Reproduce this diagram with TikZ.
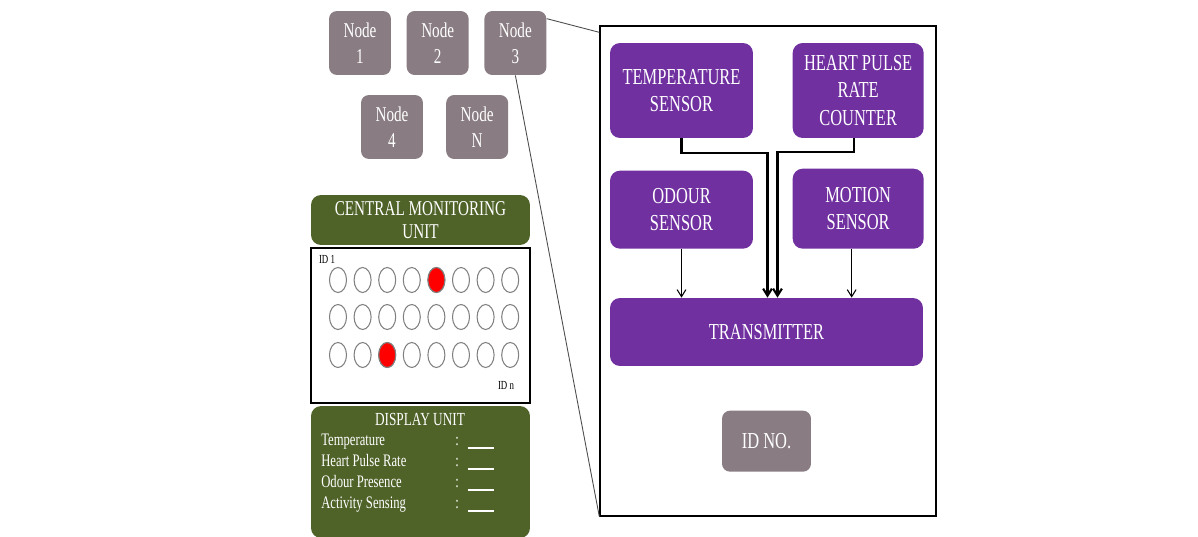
\documentclass[tikz,border=0pt]{standalone}
\usepackage{fontspec}
\setmainfont[FakeStretch=0.72]{Liberation Serif}
\usepackage{xcolor}
\usetikzlibrary{positioning,arrows.meta,shapes.geometric}

\definecolor{nodegray}{RGB}{137,124,130}
\definecolor{sensorpurple}{RGB}{112,48,160}
\definecolor{olivepanel}{RGB}{79,98,40}

\begin{document}
\begin{tikzpicture}[x=0.02cm, y=-0.02cm, >={Straight Barb[length=4pt,width=5pt]}]
\tikzstyle{netnode}=[
    fill=nodegray, rounded corners=0.16cm,
    text=white, align=center,
    minimum width=1.24cm, minimum height=1.28cm,
    font=\fontsize{12}{15}\selectfont
]
\tikzstyle{sensor}=[
    fill=sensorpurple, rounded corners=0.2cm,
    text=white, align=center,
    font=\fontsize{13}{15.5}\selectfont
]
\tikzstyle{panel}=[fill=olivepanel, rounded corners=0.2cm, text=white, align=center, minimum width=4.38cm]
\tikzstyle{led}=[draw=black!50, line width=0.6pt, ellipse, minimum width=0.34cm, minimum height=0.5cm, inner sep=0pt]
\tikzstyle{rowtext}=[text=white, inner sep=0pt, anchor=base west, font=\fontsize{10}{12}\selectfont]
\tikzstyle{link}=[draw=black!70, line width=0.5pt]
\tikzstyle{elbow}=[->, line width=1.2pt]
\tikzstyle{feed}=[->, line width=0.6pt]

\useasboundingbox (0,0) rectangle (1198,537);

% network of nodes
\node[netnode] (n1) at (360,43) {Node\\1};
\node[netnode, right=0.3cm of n1] (n2) {Node\\2};
\node[netnode, right=0.3cm of n2] (n3) {Node\\3};
\node[netnode] (n4) at (392,127) {Node\\4};
\node[netnode, right=0.45cm of n4] (nN) {Node\\N};

% central monitoring unit
\node[panel, minimum height=1cm, font=\fontsize{12}{13}\selectfont] (cmu) at (420.5,220) {CENTRAL MONITORING\\UNIT};
\node[draw, line width=0.8pt, minimum width=4.38cm, minimum height=3.1cm, below=0.04cm of cmu] (grid) {};
\foreach \r/\yy in {1/280,2/317,3/355}
  \foreach \c in {1,...,8}
    \node[led] (led-\r-\c) at ({338+24.6*(\c-1)},\yy) {};
\node[led, fill=red] at (led-1-5) {};
\node[led, fill=red] at (led-3-3) {};
\node[font=\fontsize{7}{8}\selectfont] (id1) at (327,259) {ID 1};
\node[font=\fontsize{7}{8}\selectfont] (idn) at (506,385) {ID n};

% display unit
\node[panel, minimum height=2.64cm, below=0.04cm of grid] (disp) {};
\node[text=white, font=\fontsize{10.5}{12}\selectfont] (disptitle) at (420,419) {DISPLAY UNIT};
\foreach \lbl [count=\i] in {Temperature, Heart Pulse Rate, Odour Presence, Activity Sensing} {
  \node[rowtext] (row\i) at (321,{445+21*(\i-1)}) {\lbl};
  \node[rowtext] (blank\i) at (455,{445+21*(\i-1)}) {:\hspace{5pt}\rule[-2pt]{15pt}{0.6pt}};
}

% inside one node
\node[draw, line width=0.8pt, minimum width=6.72cm, minimum height=9.8cm] (unit) at (768,271) {};
\node[sensor, minimum width=2.86cm, minimum height=1.9cm] (temp) at (681.5,90.5) {TEMPERATURE\\SENSOR};
\node[sensor, minimum width=2.62cm, minimum height=1.9cm, right=0.78cm of temp] (heart) {HEART PULSE\\RATE\\COUNTER};
\node[sensor, minimum width=2.86cm, minimum height=1.56cm, below=0.64cm of temp] (odour) {ODOUR\\SENSOR};
\node[sensor, minimum width=2.62cm, minimum height=1.6cm, below=0.6cm of heart] (motion) {MOTION\\SENSOR};
\node[sensor, minimum width=6.26cm, minimum height=1.36cm] (tx) at (766.5,332) {TRANSMITTER};
\node[netnode, minimum width=1.78cm, minimum height=1.22cm, below=0.88cm of tx, font=\fontsize{13}{15}\selectfont] (idno) {ID NO.};

\draw[elbow] (temp.south) -- ++(0,15) -| ([xshift=0.02cm]tx.north);
\draw[elbow] ([xshift=-0.09cm]heart.south) -- ++(0,14) -| ([xshift=0.22cm]tx.north);
\draw[feed] (odour.south) -- (odour.south |- tx.north);
\draw[feed] ([xshift=-0.13cm]motion.south) -- ([xshift=-0.13cm]motion.south |- tx.north);

% zoom lines
\draw[link] ([yshift=-0.16cm]n3.north east) -- ([yshift=-0.14cm]unit.north west);
\draw[link] (n3.south) -- (unit.south west);
\end{tikzpicture}
\end{document}
